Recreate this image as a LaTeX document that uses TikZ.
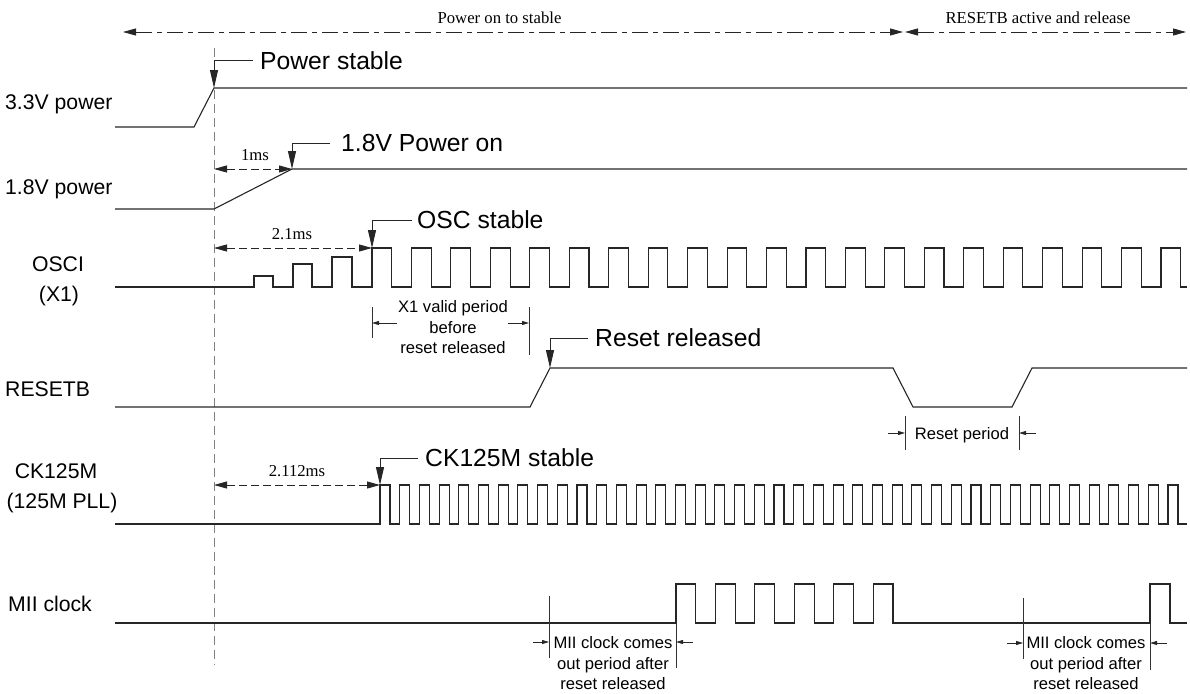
\documentclass[tikz,border=0pt]{standalone}
\usepackage{fontspec}
\setmainfont{Liberation Sans}
\newfontfamily\seriffont{Liberation Serif}
\usetikzlibrary{arrows.meta}
\begin{document}
\begin{tikzpicture}[x=1pt,y=-1pt,
  sig/.style={line width=1.1pt, black!85, line join=miter},
  thinln/.style={line width=0.8pt, black!80},
  callout/.style={line width=0.9pt, black!85, -{Triangle[length=18pt,width=8pt]}},
  dimarrow/.style={line width=0.9pt, black!85, dash pattern=on 8pt off 4pt, {Triangle[length=13pt,width=7pt]}-{Triangle[length=13pt,width=7pt]}},
  toparrow/.style={line width=0.9pt, black!85, dash pattern=on 16pt off 5pt on 5pt off 5pt, {Triangle[length=13pt,width=7pt]}-{Triangle[length=13pt,width=7pt]}},
  smarrow/.style={line width=0.8pt, black!85, -{Triangle[length=7pt,width=4pt]}},
  vline/.style={line width=0.9pt, black!50, dash pattern=on 9pt off 5pt},
  sl/.style={font=\fontsize{21.2}{25}\selectfont, inner sep=0pt},
  big/.style={font=\fontsize{24.7}{29}\selectfont, inner sep=0pt, anchor=west},
  small/.style={font=\fontsize{16.6}{20.5}\selectfont, inner sep=0pt, align=center},
  ser/.style={font=\seriffont\fontsize{16.7}{20}\selectfont, inner sep=0pt}
]
\useasboundingbox (0,0) rectangle (1190,693);

% ---- top period arrows
\coordinate (tL) at (123,32);
\coordinate (tM1) at (903,32);
\coordinate (tM2) at (905,32);
\coordinate (tR) at (1186,32);
\draw[toparrow] (tL) -- (tM1);
\draw[toparrow] (tM2) -- (tR);
\node[ser] (lblA) at (499.5,18) {Power on to stable};
\node[ser] (lblB) at (1038,18) {RESETB active and release};

% ---- vertical reference line
\coordinate (vT) at (214,48);
\coordinate (vB) at (214,665);
\draw[vline] (vT) -- (vB);

% ---- signal names
\node[sl, anchor=base west] (n33) at (5,109) {3.3V power};
\node[sl, anchor=base west] (n18) at (5,194) {1.8V power};
\node[sl, anchor=base] (nosc) at (58,271) {OSCI};
\node[sl, anchor=base] (nx1) at (59,301) {(X1)};
\node[sl, anchor=base west] (nrst) at (5,396) {RESETB};
\node[sl, anchor=base] (nck) at (56,478) {CK125M};
\node[sl, anchor=base] (npll) at (62,508) {(125M PLL)};
\node[sl, anchor=base west] (nmii) at (8,611) {MII clock};

% ---- 3.3V power
\draw[sig] (115,127) -- (194,127) -- (214,88) -- (1187,88);
% ---- 1.8V power
\draw[sig] (115,209) -- (214,209) -- (292,169) -- (1187,169);
% ---- OSCI
\draw[sig] (115,287) -- (254,287) -- (254,276) -- (273,276) -- (273,287)
  -- (293,287) -- (293,264) -- (312,264) -- (312,287)
  -- (332,287) -- (332,257) -- (352,257) -- (352,287)
  \foreach \i in {0,...,20} { -- ({372+39.45*\i},287) -- ({372+39.45*\i},248) -- ({391.7+39.45*\i},248) -- ({391.7+39.45*\i},287) }
  -- (1187,287);
% ---- RESETB
\draw[sig] (115,407) -- (530,407) -- (550,368) -- (893,368) -- (913,407) -- (1012,407) -- (1032,368) -- (1187,368);
% ---- CK125M
\draw[sig] (115,524)
  \foreach \i in {0,...,40} { -- ({380+19.7*\i},524) -- ({380+19.7*\i},485) -- ({390+19.7*\i},485) -- ({390+19.7*\i},524) }
  -- (1187,524);
% ---- MII clock
\draw[sig] (115,623)
  \foreach \i in {0,...,5} { -- ({676+39.45*\i},623) -- ({676+39.45*\i},584) -- ({695.7+39.45*\i},584) -- ({695.7+39.45*\i},623) }
  -- (1150,623) -- (1150,584) -- (1170,584) -- (1170,623) -- (1187,623);

% ---- callouts
\node[big] (ps) at (260,60.5) {Power stable};
\coordinate (p33) at (214,88);
\draw[callout] ([xshift=-7pt]ps.west) -| (p33);

\node[big] (p18t) at (341,143) {1.8V Power on};
\coordinate (p18) at (292,169);
\draw[callout] ([xshift=-11pt]p18t.west) -| (p18);

\node[big] (osct) at (417,220) {OSC stable};
\coordinate (posc) at (372,248);
\draw[callout] ([xshift=-5pt]osct.west) -| (posc);

\node[big] (rrt) at (595,338) {Reset released};
\coordinate (prr) at (550,368);
\draw[callout] ([xshift=-7pt]rrt.west) -| (prr);

\node[big] (ckt) at (425,458) {CK125M stable};
\coordinate (pck) at (380,485);
\draw[callout] ([xshift=-7pt]ckt.west) -| (pck);

% ---- timing dimensions
\coordinate (d1a) at (214,169);
\draw[dimarrow] (d1a) -- (p18);
\node[ser] (t1) at (255,155) {1ms};
\coordinate (d2a) at (214,248);
\draw[dimarrow] (d2a) -- (posc);
\node[ser] (t2) at (292,234) {2.1ms};
\coordinate (d3a) at (214,485);
\draw[dimarrow] (d3a) -- (pck);
\node[ser] (t3) at (297,471) {2.112ms};

% ---- X1 valid period
\coordinate (x1a) at (372,307); \coordinate (x1b) at (372,338);
\coordinate (x1c) at (529,307); \coordinate (x1d) at (529,355);
\draw[thinln] (x1a) -- (x1b);
\draw[thinln] (x1c) -- (x1d);
\node[small] (x1t) at (453,327.5) {X1 valid period\\before\\reset released};
\coordinate (x1l) at (397,323); \coordinate (x1le) at (372,323);
\coordinate (x1r) at (508,323); \coordinate (x1re) at (529,323);
\draw[smarrow] (x1l) -- (x1le);
\draw[smarrow] (x1r) -- (x1re);

% ---- Reset period
\coordinate (rpa) at (905,416); \coordinate (rpb) at (905,450);
\coordinate (rpc) at (1019,416); \coordinate (rpd) at (1019,450);
\draw[thinln] (rpa) -- (rpb);
\draw[thinln] (rpc) -- (rpd);
\node[small, anchor=base] (rpt) at (962,439) {Reset period};
\coordinate (rpl) at (888,433); \coordinate (rple) at (905,433);
\coordinate (rpr) at (1036,433); \coordinate (rpre) at (1019,433);
\draw[smarrow] (rpl) -- (rple);
\draw[smarrow] (rpr) -- (rpre);

% ---- MII clock period 1
\coordinate (m1a) at (549,596); \coordinate (m1b) at (549,658);
\coordinate (m1c) at (676,623); \coordinate (m1d) at (676,668);
\draw[thinln] (m1a) -- (m1b);
\draw[thinln] (m1c) -- (m1d);
\node[small] (m1t) at (613,663.5) {MII clock comes\\out period after\\reset released};
\coordinate (m1l) at (533,642); \coordinate (m1le) at (549,642);
\coordinate (m1r) at (693,642); \coordinate (m1re) at (676,642);
\draw[smarrow] (m1l) -- (m1le);
\draw[smarrow] (m1r) -- (m1re);

% ---- MII clock period 2
\coordinate (m2a) at (1023,598); \coordinate (m2b) at (1023,659);
\coordinate (m2c) at (1150,623); \coordinate (m2d) at (1150,670);
\draw[thinln] (m2a) -- (m2b);
\draw[thinln] (m2c) -- (m2d);
\node[small] (m2t) at (1086,663.5) {MII clock comes\\out period after\\reset released};
\coordinate (m2l) at (1007,643); \coordinate (m2le) at (1023,643);
\coordinate (m2r) at (1167,643); \coordinate (m2re) at (1150,643);
\draw[smarrow] (m2l) -- (m2le);
\draw[smarrow] (m2r) -- (m2re);
\end{tikzpicture}
\end{document}
